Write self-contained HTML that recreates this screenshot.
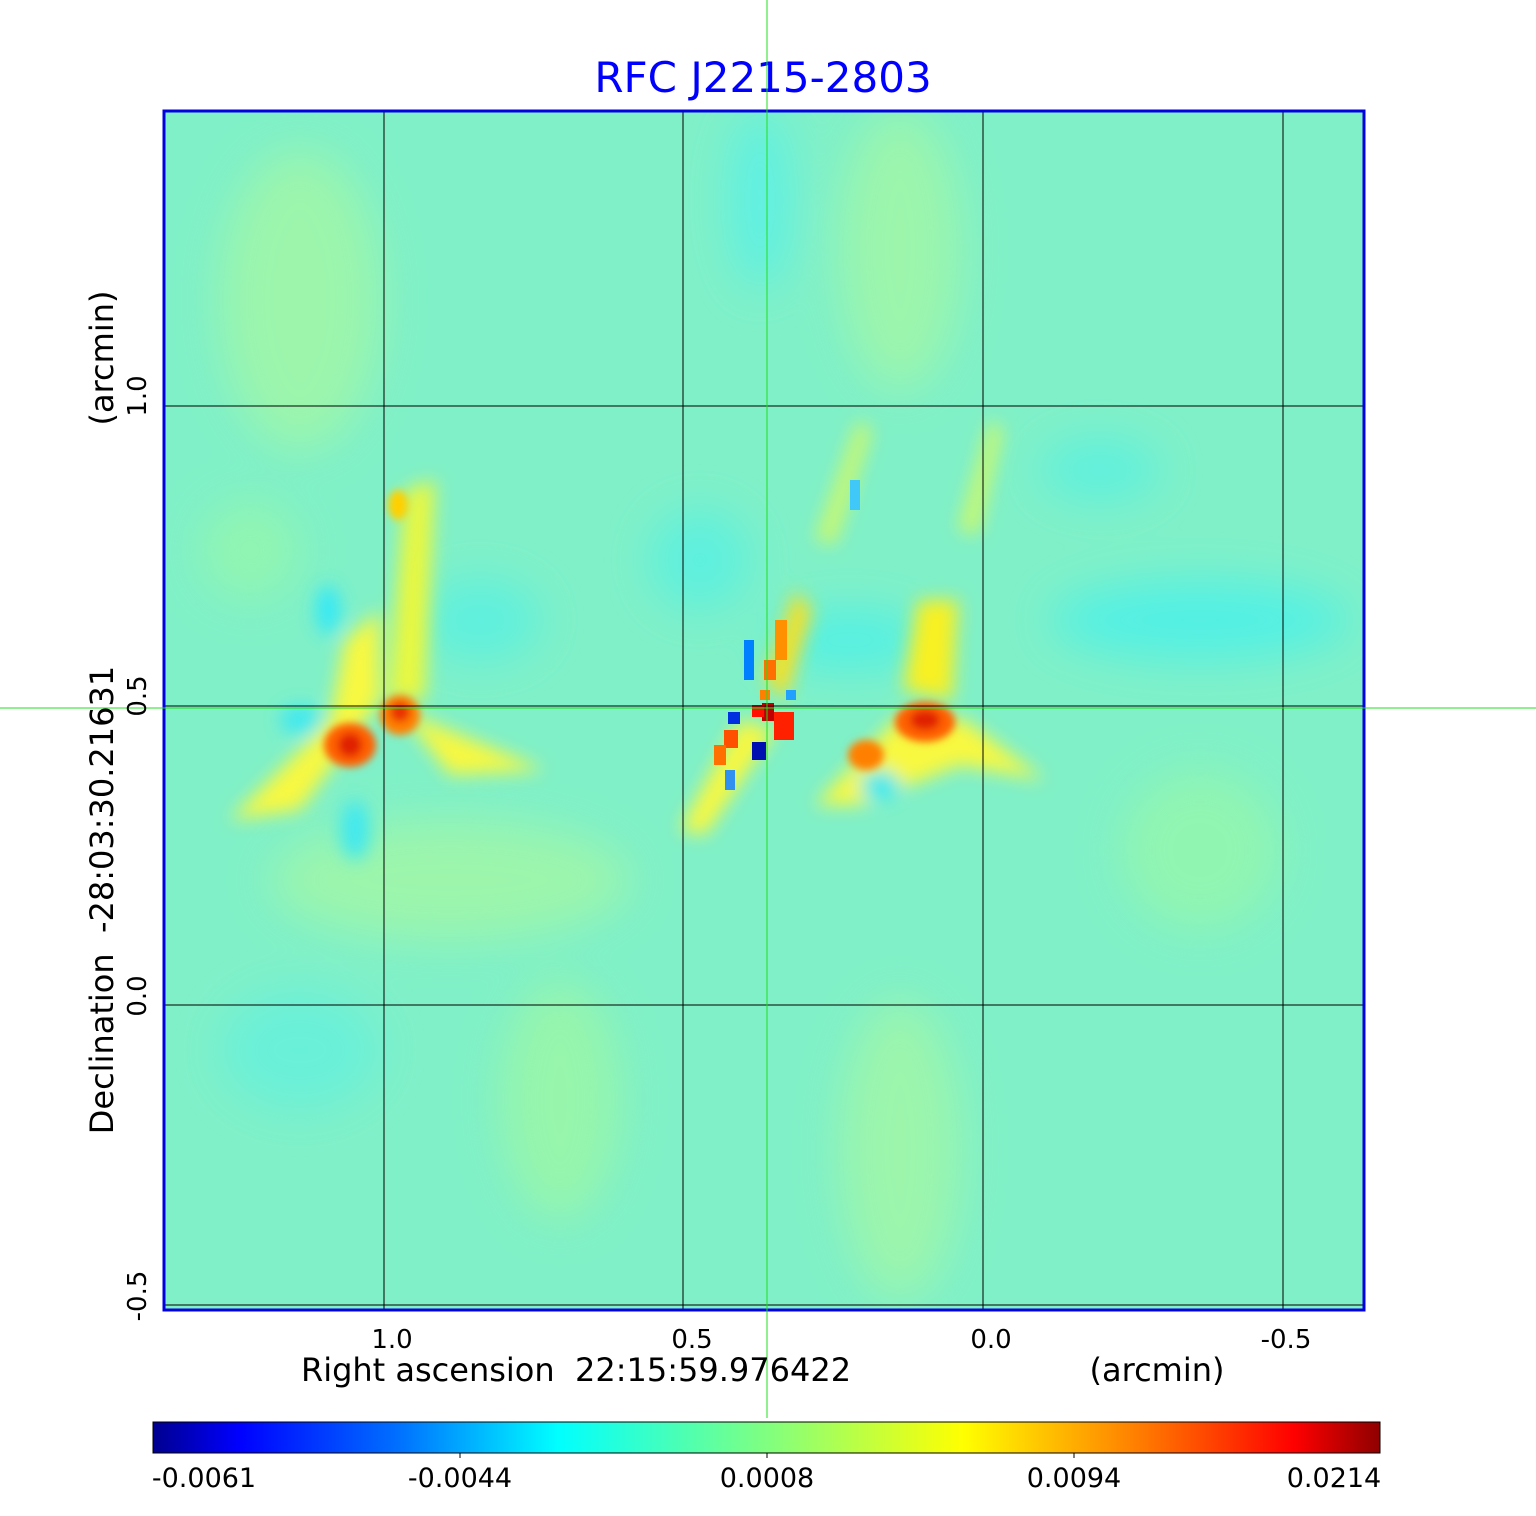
<!DOCTYPE html>
<html><head><meta charset="utf-8"><style>
html,body{margin:0;padding:0;background:#fff;}
svg text{font-family:"DejaVu Sans","Liberation Sans",sans-serif;}
</style></head><body>
<svg width="1536" height="1511" viewBox="0 0 1536 1511" xmlns="http://www.w3.org/2000/svg">
<defs>
<filter id="b" x="-50%" y="-50%" width="200%" height="200%"><feGaussianBlur stdDeviation="9"/></filter>
<filter id="b2" x="-50%" y="-50%" width="200%" height="200%"><feGaussianBlur stdDeviation="4"/></filter>
<filter id="b3" x="-50%" y="-50%" width="200%" height="200%"><feGaussianBlur stdDeviation="22"/></filter>
<clipPath id="c"><rect x="164" y="111" width="1200" height="1199"/></clipPath>
<linearGradient id="jet" x1="0" x2="1" y1="0" y2="0">
<stop offset="0" stop-color="#00008f"/>
<stop offset="0.07" stop-color="#0000ff"/>
<stop offset="0.2" stop-color="#0070ff"/>
<stop offset="0.33" stop-color="#00ffff"/>
<stop offset="0.5" stop-color="#80ff80"/>
<stop offset="0.66" stop-color="#ffff00"/>
<stop offset="0.8" stop-color="#ff8000"/>
<stop offset="0.93" stop-color="#ff0000"/>
<stop offset="1" stop-color="#8f0000"/>
</linearGradient>
</defs>
<text x="763" y="92" font-size="42" fill="#0000ff" text-anchor="middle">RFC J2215-2803</text>
<g clip-path="url(#c)">
<rect x="164" y="111" width="1200" height="1199" fill="#80f0c8"/>
<g filter="url(#b3)" opacity="0.7">
<ellipse cx="300" cy="300" rx="80" ry="150" fill="#a8f8a0"/>
<ellipse cx="900" cy="250" rx="60" ry="140" fill="#a8f8a0"/>
<ellipse cx="1200" cy="620" rx="150" ry="40" fill="#40f0f0"/>
<ellipse cx="450" cy="880" rx="180" ry="60" fill="#a8f8a0"/>
<ellipse cx="900" cy="1150" rx="60" ry="150" fill="#a8f8a0"/>
<ellipse cx="300" cy="1050" rx="80" ry="60" fill="#60f0e0"/>
<ellipse cx="760" cy="200" rx="30" ry="90" fill="#50f0f0"/>
<ellipse cx="850" cy="640" rx="80" ry="30" fill="#40f0f0"/>
<ellipse cx="700" cy="560" rx="50" ry="50" fill="#50f0e8"/>
<ellipse cx="480" cy="620" rx="60" ry="40" fill="#50f0e8"/>
<ellipse cx="1100" cy="470" rx="60" ry="30" fill="#50f0e8"/>
<ellipse cx="560" cy="1100" rx="60" ry="120" fill="#a0f8a0"/>
<ellipse cx="1200" cy="850" rx="80" ry="80" fill="#98f8a8"/>
<ellipse cx="250" cy="550" rx="50" ry="50" fill="#98f8a8"/>
</g>
<g filter="url(#b)">
<path d="M230 820 L330 720 L345 640 L380 610 L380 700 L300 810 Z" fill="#f8f840"/>
<path d="M388 700 L405 490 L435 480 L425 700 Z" fill="#e8f840"/>
<path d="M400 710 L545 770 L450 775 Z" fill="#f8f840"/>
<path d="M680 830 L740 720 L775 730 L705 835 Z" fill="#f8f840"/>
<path d="M765 680 L795 590 L812 610 L785 700 Z" fill="#f8e020"/>
<path d="M815 805 L900 715 L965 720 L1045 780 L960 765 L860 805 Z" fill="#f8f840"/>
<path d="M903 690 L918 600 L958 600 L952 700 Z" fill="#f8f020"/>
<path d="M815 540 L858 420 L872 430 L835 545 Z" fill="#c8f870"/>
<path d="M958 530 L990 420 L1003 430 L978 535 Z" fill="#c8f870"/>
<ellipse cx="328" cy="610" rx="12" ry="25" fill="#30e8f8"/>
<ellipse cx="355" cy="830" rx="15" ry="30" fill="#40e8f0"/>
<ellipse cx="880" cy="785" rx="20" ry="15" fill="#40e8f0"/>
<ellipse cx="300" cy="720" rx="20" ry="15" fill="#40e8f0"/>
</g>
<g filter="url(#b2)">
<ellipse cx="350" cy="745" rx="26" ry="22" fill="#ff6000"/>
<ellipse cx="350" cy="745" rx="12" ry="12" fill="#e02000"/>
<ellipse cx="400" cy="715" rx="20" ry="20" fill="#ff8000"/>
<ellipse cx="400" cy="712" rx="10" ry="10" fill="#e83000"/>
<ellipse cx="925" cy="722" rx="30" ry="20" fill="#ff6000"/>
<ellipse cx="925" cy="720" rx="15" ry="10" fill="#e02000"/>
<ellipse cx="866" cy="755" rx="18" ry="15" fill="#ff8000"/>
<ellipse cx="398" cy="505" rx="10" ry="15" fill="#ffd000"/>
</g>
<rect x="762" y="703" width="12" height="18" fill="#c00000"/>
<rect x="752" y="705" width="12" height="12" fill="#ff1000"/>
<rect x="774" y="712" width="20" height="28" fill="#ff2000"/>
<rect x="760" y="690" width="10" height="10" fill="#ff8000"/>
<rect x="764" y="660" width="12" height="20" fill="#ff7000"/>
<rect x="775" y="620" width="12" height="40" fill="#ff9000"/>
<rect x="744" y="640" width="10" height="40" fill="#0080ff"/>
<rect x="728" y="712" width="12" height="12" fill="#0030e0"/>
<rect x="724" y="730" width="14" height="18" fill="#ff5000"/>
<rect x="714" y="745" width="12" height="20" fill="#ff7000"/>
<rect x="752" y="742" width="14" height="18" fill="#0010b0"/>
<rect x="786" y="690" width="10" height="10" fill="#20a0ff"/>
<rect x="725" y="770" width="10" height="20" fill="#3090f0"/>
<rect x="850" y="480" width="10" height="30" fill="#40c8f8"/>
<line x1="384" y1="111" x2="384" y2="1310" stroke="#000" stroke-width="1"/>
<line x1="683" y1="111" x2="683" y2="1310" stroke="#000" stroke-width="1"/>
<line x1="983" y1="111" x2="983" y2="1310" stroke="#000" stroke-width="1"/>
<line x1="1283" y1="111" x2="1283" y2="1310" stroke="#000" stroke-width="1"/>
<line x1="164" y1="406" x2="1364" y2="406" stroke="#000" stroke-width="1"/>
<line x1="164" y1="706" x2="1364" y2="706" stroke="#000" stroke-width="1"/>
<line x1="164" y1="1005" x2="1364" y2="1005" stroke="#000" stroke-width="1"/>
<line x1="164" y1="1305" x2="1364" y2="1305" stroke="#000" stroke-width="1"/>
</g>
<rect x="164" y="111" width="1200" height="1199" fill="none" stroke="#0000e0" stroke-width="3"/>
<line x1="767" y1="0" x2="767" y2="1418" stroke="#20e020" stroke-width="1"/>
<line x1="0" y1="708" x2="1536" y2="708" stroke="#20e020" stroke-width="1"/>
<g font-size="26" fill="#000" text-anchor="middle">
<text x="392" y="1348">1.0</text>
<text x="692" y="1348">0.5</text>
<text x="991" y="1348">0.0</text>
<text x="1286" y="1348">-0.5</text>
</g>
<text x="576" y="1381" font-size="32" text-anchor="middle" xml:space="preserve">Right ascension  22:15:59.976422</text>
<text x="1157" y="1381" font-size="32" text-anchor="middle">(arcmin)</text>
<g font-size="26" text-anchor="middle">
<text transform="translate(146,396) rotate(-90)">1.0</text>
<text transform="translate(146,696) rotate(-90)">0.5</text>
<text transform="translate(146,996) rotate(-90)">0.0</text>
<text transform="translate(146,1296) rotate(-90)">-0.5</text>
</g>
<text transform="translate(113,900) rotate(-90)" font-size="32" text-anchor="middle" xml:space="preserve">Declination  -28:03:30.21631</text>
<text transform="translate(113,358) rotate(-90)" font-size="32" text-anchor="middle">(arcmin)</text>
<rect x="153" y="1422" width="1227" height="31" fill="url(#jet)" stroke="#000" stroke-width="1"/>
<g stroke="#000"><line x1="460" y1="1453" x2="460" y2="1458"/><line x1="767" y1="1453" x2="767" y2="1458"/><line x1="1074" y1="1453" x2="1074" y2="1458"/></g>
<g font-size="27" text-anchor="middle">
<text x="204" y="1487">-0.0061</text>
<text x="460" y="1487">-0.0044</text>
<text x="767" y="1487">0.0008</text>
<text x="1074" y="1487">0.0094</text>
<text x="1334" y="1487">0.0214</text>
</g>
</svg>
</body></html>
